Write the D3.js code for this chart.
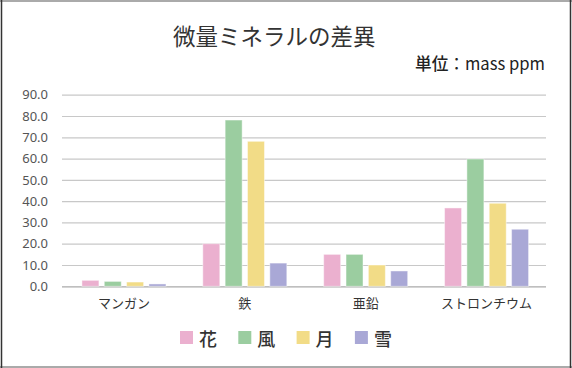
<!DOCTYPE html>
<html>
<head>
<meta charset="utf-8">
<script src="https://cdn.jsdelivr.net/npm/d3@7"></script>
<style>
  body { margin: 0; background: #fff; }
  svg { display: block; }
</style>
</head>
<body>
<svg id="chart" width="572" height="368"></svg>
<script>
// data
const minerals = ['マンガン', '鉄', '亜鉛', 'ストロンチウム'];
const seriesNames = ['花', '風', '月', '雪'];
const hanaValues = [2.8, 20.0, 15.0, 36.8];
const kazeValues = [2.3, 78.1, 15.0, 59.8];
const tsukiValues = [2.0, 68.1, 10.0, 39.0];
const yukiValues = [1.1, 10.9, 7.2, 26.8];
const yTicks = [0, 10, 20, 30, 40, 50, 60, 70, 80, 90];

const seriesColors = ['#ebb0cf', '#9bcda0', '#f2dc87', '#a9a8d6'];
const allValues = [hanaValues, kazeValues, tsukiValues, yukiValues];

const jpFont = '"Noto Sans CJK JP", "Noto Sans", sans-serif';
const numFont = '"Noto Sans", Lato, sans-serif';

const svg = d3.select('#chart');

// frame
svg.append('line').attr('x1', 0).attr('x2', 572).attr('y1', 1).attr('y2', 1)
    .attr('stroke', '#aaa').attr('stroke-width', 2);
svg.append('line').attr('x1', 0).attr('x2', 572).attr('y1', 367).attr('y2', 367)
    .attr('stroke', '#aaa').attr('stroke-width', 2);
svg.append('line').attr('x1', 1.5).attr('x2', 1.5).attr('y1', 0).attr('y2', 368)
    .attr('stroke', '#333').attr('stroke-width', 1.5);
svg.append('line').attr('x1', 570.5).attr('x2', 570.5).attr('y1', 0).attr('y2', 368)
    .attr('stroke', '#333').attr('stroke-width', 1.5);

// title + unit
svg.append('text')
    .attr('x', 173).attr('y', 35)
    .attr('dominant-baseline', 'central')
    .attr('font-family', jpFont)
    .attr('font-size', '22.5px')
    .attr('fill', '#333')
    .text('微量ミネラルの差異');

const unit = svg.append('text')
    .attr('x', 545).attr('y', 62)
    .attr('text-anchor', 'end')
    .attr('dominant-baseline', 'central')
    .attr('font-family', jpFont)
    .attr('font-size', '17px')
    .attr('fill', '#222')
    .attr('textLength', 130)
    .attr('lengthAdjust', 'spacingAndGlyphs');
unit.append('tspan').attr('font-weight', 500).text('単位');
unit.append('tspan').text('：mass ppm');

// scales
const gridLeft = 62, gridRight = 546;
const x0 = d3.scaleBand().domain(minerals).range([63.5, 547]);
const x1 = d3.scaleBand().domain(seriesNames).range([-42, 42]).paddingInner(0.24);
const y = d3.scaleLinear().domain([0, 90]).range([286.3, 94.7]);

// grid
const grid = svg.append('g')
    .attr('transform', `translate(${gridLeft},0)`)
    .call(d3.axisLeft(y).tickValues(yTicks).tickSize(-(gridRight - gridLeft)).tickFormat(d3.format('.1f')));
grid.select('.domain').remove();
grid.selectAll('.tick line')
    .attr('stroke', d => d === 0 ? '#aaa' : '#c8c8c8')
    .attr('stroke-width', 1.2);
grid.selectAll('.tick text')
    .attr('x', -14)
    .attr('font-family', numFont)
    .attr('font-size', '13px')
    .attr('fill', '#555');

// bars
const groups = svg.append('g').selectAll('g')
    .data(minerals)
    .join('g')
    .attr('transform', d => `translate(${x0(d) + x0.bandwidth() / 2},0)`);

groups.selectAll('rect')
    .data((d, i) => seriesNames.map((s, j) => ({ series: s, value: allValues[j][i], color: seriesColors[j] })))
    .join('rect')
    .attr('x', d => x1(d.series))
    .attr('y', d => y(d.value))
    .attr('width', x1.bandwidth())
    .attr('height', d => y(0) - y(d.value))
    .attr('fill', d => d.color)
    .attr('stroke', '#fff')
    .attr('stroke-opacity', 0.45)
    .attr('stroke-width', 1);

// x labels
const xAxis = svg.append('g')
    .attr('transform', `translate(0,${y(0)})`)
    .call(d3.axisBottom(x0).tickSize(0).tickPadding(12));
xAxis.select('.domain').remove();
xAxis.selectAll('text')
    .attr('font-family', jpFont)
    .attr('font-size', '13px')
    .attr('fill', '#333');

// legend
const legend = svg.append('g').selectAll('g')
    .data(seriesNames)
    .join('g')
    .attr('transform', (d, i) => `translate(${180 + i * 58.3},331)`);

legend.append('rect')
    .attr('width', 13).attr('height', 13)
    .attr('fill', (d, i) => seriesColors[i]);

legend.append('text')
    .attr('x', 19).attr('y', 7)
    .attr('dominant-baseline', 'central')
    .attr('font-family', jpFont)
    .attr('font-size', '18px')
    .attr('font-weight', 500)
    .attr('fill', '#333')
    .text(d => d);
</script>
</body>
</html>
